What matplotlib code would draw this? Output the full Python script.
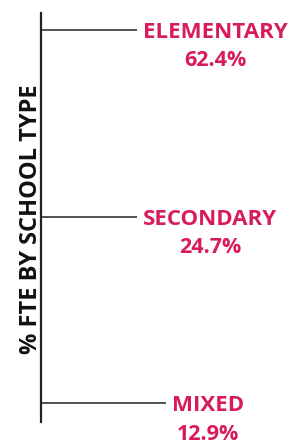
import matplotlib.pyplot as plt

# Data
school_types = ['ELEMENTARY', 'SECONDARY', 'MIXED']
fte_share = [62.4, 24.7, 12.9]
line_ends = [96, 96, 125]  # connector lengths (px from axis)

label_color = '#d81b5c'
line_color = '#222222'

plt.rcParams['font.family'] = ['Open Sans', 'DejaVu Sans']

fig = plt.figure(figsize=(2.92, 4.40), dpi=100)
ax = fig.add_axes([41 / 292, 18 / 440, 251 / 292, 409 / 440])

positions = list(range(len(school_types)))
ax.hlines(positions, 0, line_ends, color=line_color, linewidth=1.1)

for pos, name, val, end in zip(positions, school_types, fte_share, line_ends):
    t = ax.text(end + 6, pos, name, ha='left', va='center_baseline',
                color=label_color, fontsize=16, fontweight='bold')
    # percentage centred under the category name
    ax.annotate(f'{val:.1f}%', xy=(0.5, 0.5), xycoords=t, xytext=(0, -20.5),
                textcoords='offset points', ha='center', va='center',
                color=label_color, fontsize=15.5, fontweight='bold')

ax.set_xlim(0, 251)
ax.set_ylim(2.1, -0.09)

for side in ['top', 'right', 'bottom']:
    ax.spines[side].set_visible(False)
ax.spines['left'].set_linewidth(1.6)
ax.spines['left'].set_color(line_color)
ax.set_xticks([])
ax.set_yticks([])

fig.text(31 / 292, 0.501, '% FTE BY SCHOOL TYPE', rotation=90, ha='center',
         va='center', fontsize=17, fontweight='bold', color='#111111')

fig.savefig('out.png', dpi=100)
